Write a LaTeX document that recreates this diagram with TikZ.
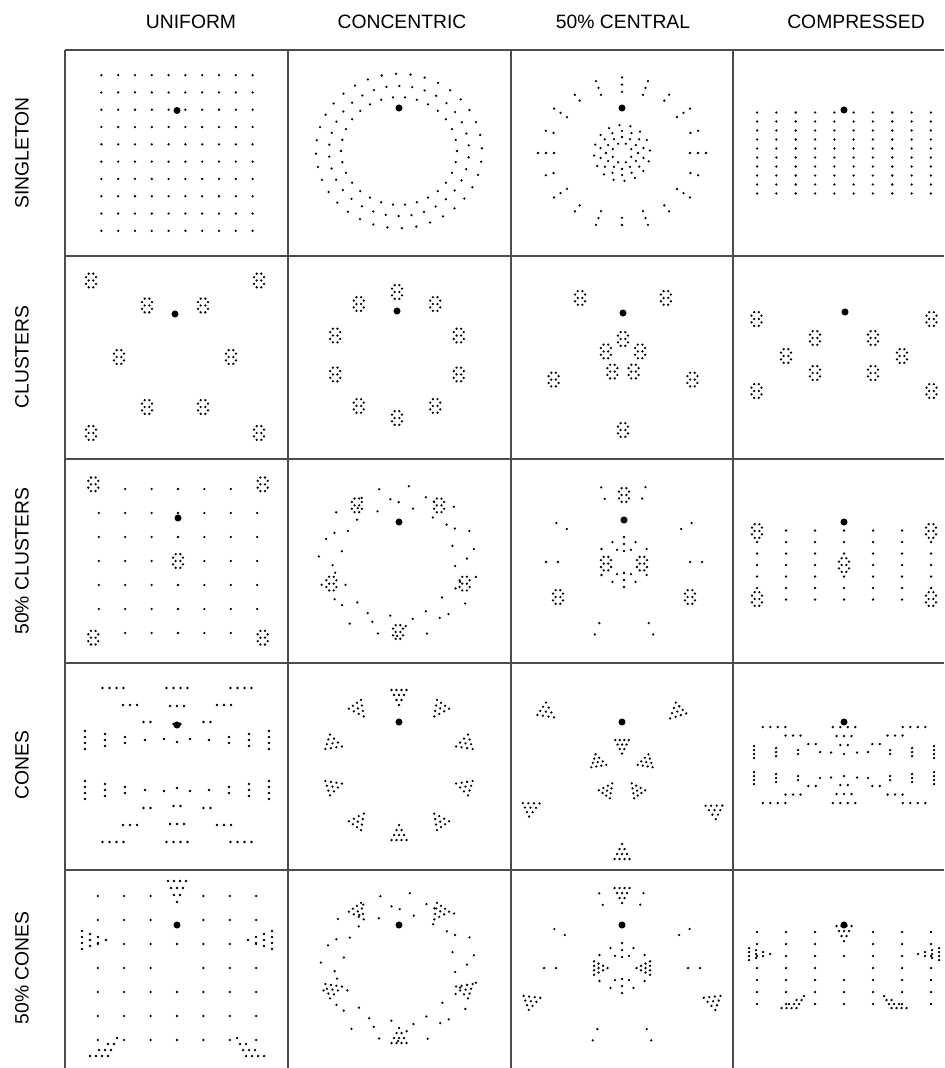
\documentclass[tikz,border=0pt]{standalone}
\usepackage{fontspec}
\newfontfamily\lblfont{Liberation Sans}
\usepackage{tikz}
\usetikzlibrary{calc}

% dot helpers (coordinates in pixels of the panel)
\newcommand{\dt}[2]{\fill ({#1},{#2}) circle[radius=0.72pt];}
\newcommand{\bigdt}[2]{\fill ({#1},{#2}) circle[radius=2pt];}
% cluster of ten dots
\newcommand{\clus}[2]{%
  \foreach \ox/\oy in {-2.3/-6.8,2.3/-6.8,-5/-3.4,5/-3.4,-2.3/0,2.3/0,-5/3.4,5/3.4,-2.3/6.8,2.3/6.8}
    {\dt{#1+(\ox)}{#2+(\oy)}}}
% cone: base x,y ; row step sx,sy ; dot spacing ex,ey
\newcommand{\cone}[6]{%
  \foreach \rw in {0,...,3}{\pgfmathtruncatemacro\nn{3-\rw}
    \foreach \cl in {0,...,\nn}
      {\dt{#1+\rw*(#3)+(\cl-\nn/2)*(#5)}{#2+\rw*(#4)+(\cl-\nn/2)*(#6)}}}}
% cone at angle: cx cy angle radius step spacing
\newcommand{\pcone}[6]{\cone{#1+(#4)*cos(#3)}{#2-(#4)*sin(#3)}{-(#5)*cos(#3)}{(#5)*sin(#3)}{(#6)*sin(#3)}{(#6)*cos(#3)}}
% ring of dots: cx cy r n offset yscale
\newcommand{\ring}[6]{%
  \foreach \rk in {1,...,#4}{\dt{#1+(#3)*cos(\rk*360/#4+#5)}{#2-(#3)*(#6)*sin(\rk*360/#4+#5)}}}

\tikzset{
  cellline/.style={line width=0.8pt,black!70},
  hdr/.style={font=\lblfont\fontsize{11}{13}\selectfont},
  rowlbl/.style={font=\lblfont\fontsize{11}{13}\selectfont,rotate=90},
}

\begin{document}
\begin{tikzpicture}[x=0.02cm,y=-0.02cm]
  \useasboundingbox (0,0) rectangle (944,1068);
  % headers
  \node[hdr] (hUni) at (191,22) {UNIFORM};
  \node[hdr] (hCon) at (402,22) {CONCENTRIC};
  \node[hdr] (hCen) at (623,22) {50\% CENTRAL};
  \node[hdr] (hCmp) at (856,22) {COMPRESSED};
  \node[rowlbl] (rSgl) at (22,153) {SINGLETON};
  \node[rowlbl] (rClu) at (22,357) {CLUSTERS};
  \node[rowlbl] (rHcl) at (22,561) {50\% CLUSTERS};
  \node[rowlbl] (rCon) at (22,765) {CONES};
  \node[rowlbl] (rHco) at (22,968) {50\% CONES};
  % grid lines
  \foreach \yy in {50,256,459,663,870} \draw[cellline] (65,\yy) -- (944,\yy);
  \foreach \xx in {65,288,511,733} \draw[cellline] (\xx,50) -- (\xx,1068);

  % ---- row 1: singleton
  \foreach \i in {0,...,9}{\foreach \j in {0,...,9}{\dt{177+16.8*(\i-4.5)}{153+17.3*(\j-4.5)}}}
  \bigdt{177}{110.5}
  \ring{399}{151}{58}{30}{0}{0.93}
  \ring{399}{151}{70}{34}{5}{0.93}
  \ring{399}{151}{83}{36}{2}{0.93}
  \bigdt{399}{108}
  \foreach \k in {0,...,19}{
    \pgfmathtruncatemacro\nd{(mod(\k,2)==0 || \k==5) ? 3 : 2}
    \pgfmathsetmacro\rb{\nd==3 ? 68 : 72}
    \foreach \m in {1,...,\nd}{\dt{622+(\rb+8*(\m-1))*cos(\k*18)}{153-0.9*(\rb+8*(\m-1))*sin(\k*18)}}}
  \ring{622}{153}{10}{8}{22.5}{1}
  \ring{622}{153}{16}{12}{0}{1}
  \ring{622}{153}{22}{14}{13}{1}
  \ring{622}{153}{28}{16}{5}{1}
  \bigdt{622}{108}
  \foreach \i in {0,...,9}{\foreach \j in {0,...,9}{\dt{844+19.3*(\i-4.5)}{153+9*(\j-4.5)}}}
  \bigdt{844}{110}

  % ---- row 2: clusters
  \foreach \px/\py in {-84/-76.5,84/-76.5,-28/-51.5,28/-51.5,-56/0,56/0,-28/50,28/50,-84/76,84/76}
    {\clus{175+\px}{357+\py}}
  \bigdt{175}{314}
  \foreach \k in {0,...,9}{\clus{397+65*cos(90+36*\k)}{355-63*sin(90+36*\k)}}
  \bigdt{397}{311}
  \foreach \k in {0,...,4}{\clus{623+73*cos(54+72*\k)}{357-73*sin(54+72*\k)}
    \clus{623+18*cos(90+72*\k)}{357-18*sin(90+72*\k)}}
  \bigdt{623}{313}
  \foreach \px/\py in {-87.5/-36,87.5/-36,-29/-17,29/-17,-58/1,58/1,-29/18,29/18,-87.5/36,87.5/36}
    {\clus{844+\px}{355+\py}}
  \bigdt{845}{312}

  % ---- row 3: 50% clusters
  \foreach \i in {0,...,6}{\foreach \j in {0,...,6}{
    \pgfmathtruncatemacro\omitpt{((\i==0||\i==6)&&(\j==0||\j==6))||(\i==3&&\j==3)}
    \ifnum\omitpt=0 \dt{178+26.4*(\i-3)}{561+24*(\j-3)}\fi}}
  \foreach \px/\py in {-84.7/-76.7,84.7/-76.7,-84.7/76.7,84.7/76.7,0/0}{\clus{178+\px}{561+\py}}
  \bigdt{178}{518}
  \foreach \k in {0,...,4}{\clus{398+70*cos(54+72*\k)}{562-70*sin(54+72*\k)}}
  \foreach \k in {0,...,49}{\dt{398+(69+12*sin(\k*137.5))*cos(\k*7.2+3)}{562-0.95*(69+12*sin(\k*137.5))*sin(\k*7.2+3)}}
  \bigdt{399}{522}
  \foreach \px/\py in {0/-67,-66/35,66/35,-18/1.6,18/1.6}{\clus{624+\px}{562+\py}}
  \foreach \a in {107,74,150,30,180,0,248,292}{\dt{624+66*cos(\a)}{562-66*sin(\a)}\dt{624+78*cos(\a)}{562-78*sin(\a)}}
  \foreach \a/\r in {90/11,90/18,90/25,270/11,270/18,270/25,60/14,60/23,120/14,120/23,240/14,240/23,300/14,300/23,30/26,150/26,210/26,330/26}
    {\dt{624+\r*cos(\a)}{562-\r*sin(\a)}}
  \bigdt{624}{520}
  \foreach \i in {0,...,6}{\foreach \j in {0,...,6}{
    \pgfmathtruncatemacro\omitpt{((\i==0||\i==6)&&(\j==0||\j==6))||(\i==3&&\j==3)}
    \ifnum\omitpt=0 \dt{844+29*(\i-3)}{565+11.5*(\j-3)}\fi}}
  \foreach \px/\py in {-87/-34,87/-34,-87/34,87/34,0/0}{\clus{844+\px}{565+\py}}
  \bigdt{844}{522}

  % ---- row 4: cones
  \cone{177-64}{765-77}{17}{17}{7}{0}
  \cone{177}{765-77}{0}{18}{7}{0}
  \cone{177+64}{765-77}{-17}{17}{7}{0}
  \cone{177-64}{765+77}{17}{-17}{7}{0}
  \cone{177}{765+77}{0}{-18}{7}{0}
  \cone{177+64}{765+77}{-17}{-17}{7}{0}
  \cone{177-92}{765-25}{20}{0}{0}{6}
  \cone{177-92}{765+25}{20}{0}{0}{6}
  \cone{177+92}{765-25}{-20}{0}{0}{6}
  \cone{177+92}{765+25}{-20}{0}{0}{6}
  \bigdt{177}{725}
  \foreach \k in {0,...,9}{\pcone{399}{765}{90+36*\k}{75}{5}{5}}
  \bigdt{399}{722}
  \foreach \a/\r in {145/98,44/82,205/106,334/108,270/94}{\pcone{622}{765}{\a}{\r}{5}{5}}
  \foreach \k in {0,...,4}{\pcone{622}{770}{90+72*\k}{30}{4.5}{4.5}}
  \bigdt{622}{722}
  \cone{844-70}{765-38}{19}{8.5}{7.5}{0}
  \cone{844}{765-38}{0}{9}{7.5}{0}
  \cone{844+70}{765-38}{-19}{8.5}{7.5}{0}
  \cone{844-70}{765+38}{19}{-8.5}{7.5}{0}
  \cone{844}{765+38}{0}{-9}{7.5}{0}
  \cone{844+70}{765+38}{-19}{-8.5}{7.5}{0}
  \cone{844-90}{765-13}{22}{0}{0}{4}
  \cone{844-90}{765+13}{22}{0}{0}{4}
  \cone{844+90}{765-13}{-22}{0}{0}{4}
  \cone{844+90}{765+13}{-22}{0}{0}{4}
  \bigdt{844}{722}

  % ---- row 5: 50% cones
  \foreach \i in {0,...,6}{\foreach \j in {0,...,6}{
    \pgfmathtruncatemacro\omitpt{(\i==3&&\j<=1)||(\i==3&&\j==3)}
    \ifnum\omitpt=0 \dt{177+26.4*(\i-3)}{968+24*(\j-3)}\fi}}
  \cone{177}{968-87}{0}{7}{6}{0}
  \cone{177-95}{968-28}{8}{0}{0}{6}
  \cone{177+95}{968-28}{-8}{0}{0}{6}
  \cone{177-78}{968+88}{6}{-6}{6}{0}
  \cone{177+78}{968+88}{-6}{-6}{6}{0}
  \bigdt{177}{925}
  \foreach \k in {0,...,4}{\pcone{399}{968}{54+72*\k}{75}{5}{5}}
  \foreach \k in {0,...,49}{\dt{399+(68+12*sin(\k*137.5))*cos(\k*7.2+3)}{968-0.95*(68+12*sin(\k*137.5))*sin(\k*7.2+3)}}
  \bigdt{399}{925}
  \pcone{622}{968}{90}{80}{5}{5}
  \pcone{622}{968}{200}{102}{5}{5}
  \pcone{622}{968}{340}{102}{5}{5}
  \pcone{622}{968}{180}{28}{4.5}{4.5}
  \pcone{622}{968}{0}{28}{4.5}{4.5}
  \foreach \a in {107,74,150,30,180,0,248,292}{\dt{622+66*cos(\a)}{968-66*sin(\a)}\dt{622+78*cos(\a)}{968-78*sin(\a)}}
  \foreach \a/\r in {90/11,90/18,90/25,270/11,270/18,270/25,60/14,60/23,120/14,120/23,240/14,240/23,300/14,300/23,30/26,150/26,210/26,330/26}
    {\dt{622+\r*cos(\a)}{968-\r*sin(\a)}}
  \bigdt{622}{925}
  \foreach \i in {0,...,6}{\foreach \j in {0,...,6}{
    \pgfmathtruncatemacro\omitpt{(\i==3&&\j<=1)||(\i==3&&\j==3)}
    \ifnum\omitpt=0 \dt{844+29*(\i-3)}{968+12*(\j-3)}\fi}}
  \cone{844}{968-42}{0}{5}{5}{0}
  \cone{844-95}{968-14}{7}{0}{0}{4}
  \cone{844+95}{968-14}{-7}{0}{0}{4}
  \cone{844-55}{968+40}{5}{-4}{5}{0}
  \cone{844+55}{968+40}{-5}{-4}{5}{0}
  \bigdt{844}{925}
\end{tikzpicture}
\end{document}
